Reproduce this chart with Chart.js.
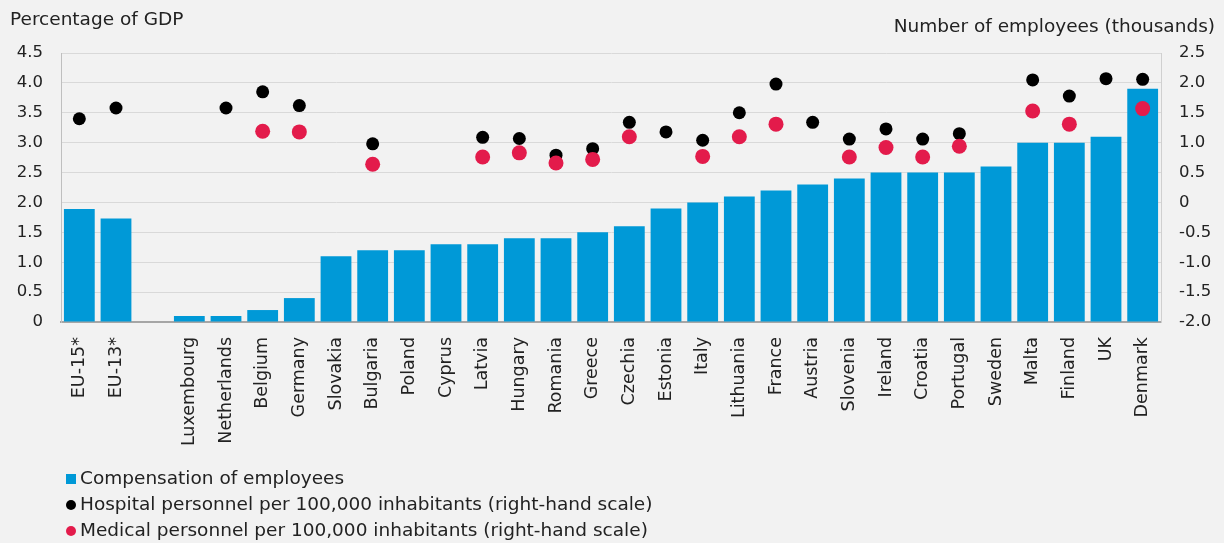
<!DOCTYPE html>
<html>
<head>
<meta charset="utf-8">
<script src="https://cdn.jsdelivr.net/npm/chart.js@4"></script>
<style>
  body { margin: 0; background: #f2f2f2; }
</style>
</head>
<body>
<canvas id="myChart" width="1224" height="543"></canvas>
<script>
const countries = ["EU-15*", "EU-13*", "", "Luxembourg", "Netherlands", "Belgium", "Germany", "Slovakia",
  "Bulgaria", "Poland", "Cyprus", "Latvia", "Hungary", "Romania", "Greece", "Czechia", "Estonia", "Italy",
  "Lithuania", "France", "Austria", "Slovenia", "Ireland", "Croatia", "Portugal", "Sweden", "Malta",
  "Finland", "UK", "Denmark"];

// percentage of GDP (left scale)
const compensation = [1.89, 1.73, null, 0.1, 0.1, 0.2, 0.4, 1.1, 1.2, 1.2, 1.3, 1.3, 1.4, 1.4, 1.5, 1.6,
  1.9, 2.0, 2.1, 2.2, 2.3, 2.4, 2.5, 2.5, 2.5, 2.6, 3.0, 3.0, 3.1, 3.9];

// right-hand scale
const hospital = [1.40, 1.58, null, null, 1.58, 1.85, 1.62, null, 0.98, null, null, 1.09, 1.07, 0.79, 0.90,
  1.34, 1.18, 1.04, 1.50, 1.98, 1.34, 1.06, 1.23, 1.06, 1.15, null, 2.05, 1.78, 2.07, 2.06];
const medical = [null, null, null, null, null, 1.19, 1.18, null, 0.64, null, null, 0.76, 0.83, 0.66, 0.72,
  1.10, null, 0.77, 1.10, 1.31, null, 0.76, 0.92, 0.76, 0.94, null, 1.53, 1.31, null, 1.57];

const legendItems = [
  { text: "Compensation of employees", color: "#0099d7", shape: "square" },
  { text: "Hospital personnel per 100,000 inhabitants (right-hand scale)", color: "#000000", shape: "circle" },
  { text: "Medical personnel per 100,000 inhabitants (right-hand scale)", color: "#e31b4b", shape: "circle" },
];

const fontFam = "'DejaVu Sans', Verdana, sans-serif";

// axis titles + legend drawn by hand, the default legend can't stack vertically
const extras = {
  id: "extras",
  afterDraw(chart) {
    const ctx = chart.ctx;
    ctx.save();
    ctx.fillStyle = "#222";
    ctx.font = "18.5px " + fontFam;
    ctx.textBaseline = "middle";
    ctx.textAlign = "left";
    ctx.fillText("Percentage of GDP", 10, 20);
    ctx.textAlign = "right";
    ctx.fillText("Number of employees (thousands)", 1215, 27);

    ctx.textAlign = "left";
    legendItems.forEach((it, i) => {
      const y = 479 + i * 26;
      ctx.fillStyle = it.color;
      if (it.shape === "square") {
        ctx.fillRect(66, y - 5, 10, 10);
      } else {
        ctx.beginPath();
        ctx.arc(71, y, 5, 0, Math.PI * 2);
        ctx.fill();
      }
      ctx.fillStyle = "#222";
      ctx.fillText(it.text, 80, y);
    });
    ctx.restore();
  }
};

const tickFmt = (v) => (v === 0 ? "0" : v.toFixed(1));

const config = {
  type: "bar",
  data: {
    labels: countries,
    datasets: [
      {
        label: "Medical personnel per 100,000 inhabitants (right-hand scale)",
        type: "line",
        data: medical,
        yAxisID: "y1",
        showLine: false,
        pointRadius: 7.5,
        pointBackgroundColor: "#e31b4b",
        pointBorderWidth: 0,
        order: 0,
      },
      {
        label: "Hospital personnel per 100,000 inhabitants (right-hand scale)",
        type: "line",
        data: hospital,
        yAxisID: "y1",
        showLine: false,
        pointRadius: 6.5,
        pointBackgroundColor: "#000000",
        pointBorderWidth: 0,
        order: 1,
      },
      {
        label: "Compensation of employees",
        data: compensation,
        yAxisID: "y",
        backgroundColor: "#0099d7",
        barPercentage: 0.84,
        categoryPercentage: 1,
        order: 2,
      },
    ],
  },
  options: {
    responsive: false,
    animation: false,
    layout: { padding: { top: 53, left: 4, right: 7, bottom: 93 } },
    plugins: {
      legend: { display: false },
      tooltip: { enabled: false },
    },
    scales: {
      x: {
        grid: { display: false, drawTicks: false },
        border: { color: "#a6a6a6", width: 2 },
        ticks: {
          color: "#222",
          font: { family: fontFam, size: 17.5 },
          maxRotation: 90,
          minRotation: 90,
          autoSkip: false,
          padding: 15,
        },
        afterFit: (s) => { s.height = 128; },
      },
      y: {
        position: "left",
        min: 0,
        max: 4.5,
        ticks: {
          stepSize: 0.5,
          color: "#222",
          font: { family: fontFam, size: 16.5 },
          callback: tickFmt,
          padding: 18,
        },
        grid: { color: "#d9d9d9", lineWidth: 1, drawTicks: false },
        border: { color: "#bfbfbf" },
        afterFit: (s) => { s.width = 57; },
      },
      y1: {
        position: "right",
        min: -2,
        max: 2.5,
        ticks: {
          stepSize: 0.5,
          color: "#222",
          font: { family: fontFam, size: 16.5 },
          callback: tickFmt,
          padding: 18,
        },
        grid: { display: false, drawTicks: false },
        border: { color: "#d0d0d0" },
        afterFit: (s) => { s.width = 56; },
      },
    },
  },
  plugins: [extras],
};

var myChart = new Chart(document.getElementById("myChart"), config);
</script>
</body>
</html>
